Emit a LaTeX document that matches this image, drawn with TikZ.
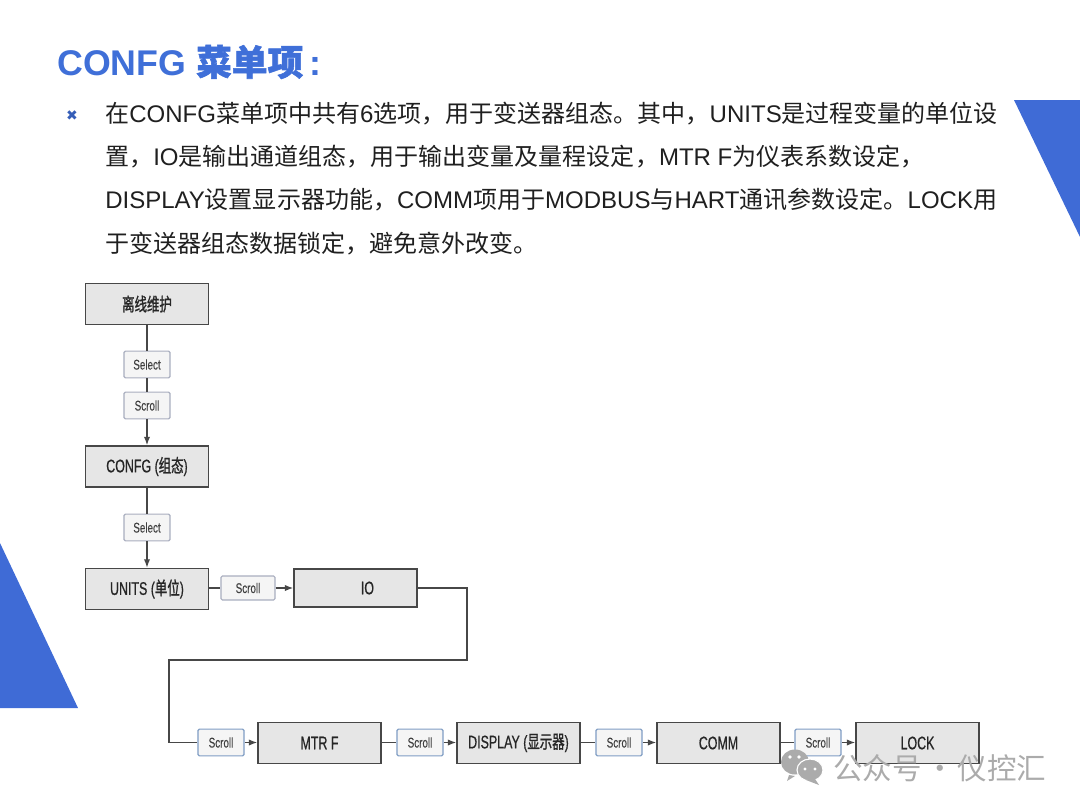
\documentclass[tikz,border=0pt]{standalone}
\usepackage{fontspec}
\usetikzlibrary{arrows.meta}
\setmainfont{Liberation Sans}
\newfontfamily\cjk{Noto Sans CJK SC}
\newfontfamily\boxlatin[FakeStretch=0.68,FakeBold=0.6]{Liberation Sans}
\newfontfamily\keylatin[FakeStretch=0.7,FakeBold=0.2]{Liberation Sans}
\newfontfamily\boxcjk[FakeStretch=0.68,FakeBold=1.2]{Noto Sans CJK SC}
\newfontfamily\symfont{DejaVu Sans}
\newcommand{\zh}[1]{{\cjk #1}}
\newcommand{\zb}[1]{{\boxcjk #1}}
\definecolor{titleblue}{HTML}{3F6FD8}
\definecolor{triblue}{HTML}{3F6BD6}
\definecolor{boxgrey}{HTML}{E6E6E6}
\definecolor{boxline}{HTML}{474747}
\definecolor{markgrey}{HTML}{ABABAB}
\definecolor{keypale}{HTML}{A9AEBF}
\definecolor{keyblue}{HTML}{7F9DC4}
\tikzset{
  mainbox/.style={draw=boxline,line width=1pt,fill=boxgrey,minimum width=3.075cm,minimum height=1.03cm,inner sep=0pt,font=\boxlatin\fontsize{13}{14}\selectfont,text=black!85},
  keybox/.style={draw=#1,line width=0.8pt,fill=black!4,rounded corners=1pt,minimum width=1.15cm,minimum height=0.67cm,inner sep=0pt,font=\keylatin\fontsize{10}{11}\selectfont,text=black!75},
  keybox/.default=keypale,
  bodyline/.style={anchor=west,inner sep=0pt,font=\fontsize{17.08}{20}\selectfont,text=black!88},
  conn/.style={draw=boxline,line width=0.9pt},
  connarr/.style={conn,-{Latex[length=6pt,width=4.5pt]}}
}
\begin{document}
\begin{tikzpicture}[x=0.025cm,y=-0.025cm]
\useasboundingbox (0,0) rectangle (1080,810);
\fill[triblue] (1014,100) -- (1080,100) -- (1080,237) -- cycle;
\fill[triblue] (0,543) -- (78,708) -- (0,708) -- cycle;
\node[anchor=west,inner sep=0pt,text=titleblue,font=\bfseries\fontsize{25.4}{30}\selectfont] (title) at (57,62) {CONFG {\cjk\addfontfeature{FakeBold=1.5}菜单项}\,:};
\node[inner sep=0pt,text=titleblue!85!black,font=\symfont\fontsize{10}{12}\selectfont] (bullet) at (72,115.5) {✖};
\node[bodyline] (line1) at (105,113.5) {\zh{在}CONFG\zh{菜单项中共有}6\zh{选项，用于变送器组态。其中，}UNITS\zh{是过程变量的单位设}};
\node[bodyline] (line2) at (105,157) {\zh{置，}IO\zh{是输出通道组态，用于输出变量及量程设定，}MTR F\zh{为仪表系数设定，}};
\node[bodyline] (line3) at (105,200) {DISPLAY\zh{设置显示器功能，}COMM\zh{项用于}MODBUS\zh{与}HART\zh{通讯参数设定。}LOCK\zh{用}};
\node[bodyline] (line4) at (105,244) {\zh{于变送器组态数据锁定，避免意外改变。}};

\node[mainbox] (offline) at (147,304) {\zb{离线维护}};
\node[keybox] (sel1) at (147,364.5) {Select};
\node[keybox] (scr1) at (147,405.5) {Scroll};
\node[mainbox] (config) at (147,466.5) {CONFG (\zb{组态})};
\node[keybox] (sel2) at (147,527.5) {Select};
\node[mainbox] (units) at (147,589) {UNITS (\zb{单位})};
\node[keybox,minimum width=1.35cm,minimum height=0.6cm] (scr2) at (248,588) {Scroll};
\node[mainbox,minimum height=0.95cm] (io) at (355.5,588) {\hspace{17pt}IO};
\coordinate (turn1) at (467,588);
\coordinate (turn2) at (467,660);
\coordinate (turn3) at (169,660);
\coordinate (turn4) at (169,742.5);
\node[keybox=keyblue] (scr3) at (221,742.5) {Scroll};
\node[mainbox] (mtrf) at (319.5,743) {MTR F};
\node[keybox=keyblue] (scr4) at (420,742.5) {Scroll};
\node[mainbox] (display) at (518.5,743) {DISPLAY (\zb{显示器})};
\node[keybox=keyblue] (scr5) at (619,742.5) {Scroll};
\node[mainbox] (comm) at (718.5,743) {COMM};
\node[keybox=keyblue] (scr6) at (818,742.5) {Scroll};
\node[mainbox] (lock) at (917.5,743) {LOCK};

\draw[conn] (offline) -- (sel1);
\draw[conn] (sel1) -- (scr1);
\draw[connarr] (scr1) -- (config);
\draw[conn] (config) -- (sel2);
\draw[connarr] (sel2) -- (units);
\draw[conn] (units.east |- scr2) -- (scr2);
\draw[connarr] (scr2) -- (io);
\draw[conn] (io) -- (turn1) -- (turn2) -- (turn3) -- (turn4) -- (scr3);
\draw[connarr] (scr3) -- (mtrf.west |- scr3);
\draw[conn] (mtrf.east |- scr4) -- (scr4);
\draw[connarr] (scr4) -- (display.west |- scr4);
\draw[conn] (display.east |- scr5) -- (scr5);
\draw[connarr] (scr5) -- (comm.west |- scr5);
\draw[conn] (comm.east |- scr6) -- (scr6);
\draw[connarr] (scr6) -- (lock.west |- scr6);

\fill[markgrey] (795,762) ellipse (14 and 12.5);
\fill[markgrey] (789,775) -- (787,781) -- (795,776) -- cycle;
\fill[markgrey,draw=white,line width=0.8pt] (810,770) ellipse (13 and 11);
\fill[markgrey] (815,779) -- (819,785) -- (806,780) -- cycle;
\fill[white] (790,757) circle (1.8);
\fill[white] (799,757) circle (1.8);
\fill[white] (805,769) circle (1.6);
\fill[white] (815,769) circle (1.6);
\node[anchor=west,inner sep=0pt,text=markgrey,font=\cjk\fontsize{21}{24}\selectfont] (mark) at (833,768) {公众号\makebox[25.6pt]{·}仪控汇};
\end{tikzpicture}
\end{document}
